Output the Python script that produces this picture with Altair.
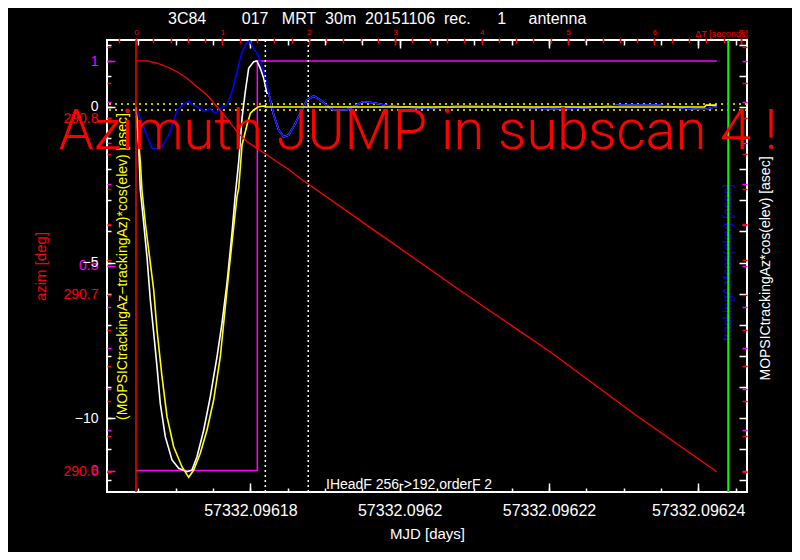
import altair as alt
import pandas as pd

FONT = "Liberation Sans"
RED, WHITE, BLUE, YELLOW, MAGENTA, GREEN = "#ff0000", "#ffffff", "#0000ff", "#ffff00", "#ff00ff", "#00ff00"

# ---------------- data ----------------
# time since start of subscan [s]
az_t = [0.0, 0.127, 0.243, 0.359, 0.475, 0.590, 0.706, 0.822, 0.938, 1.053, 1.169, 1.285,
        1.400, 1.516, 1.632, 1.748, 1.898, 2.862, 3.828, 4.792, 5.756, 6.721]
az_deg = [290.8324, 290.8324, 290.8311, 290.8291, 290.8263, 290.8226, 290.8178, 290.8131,
          290.8065, 290.7999, 290.7924, 290.7867, 290.7830, 290.7792, 290.7754, 290.7717,
          290.7660, 290.7330, 290.7000, 290.6679, 290.6331, 290.6000]

blue_t = [0.012, 0.050, 0.108, 0.185, 0.243, 0.301, 0.378, 0.436, 0.475, 0.532, 0.610, 0.648,
          0.686, 0.726, 0.784, 0.860, 0.918, 0.995, 1.053, 1.111, 1.169, 1.227, 1.285, 1.316,
          1.362, 1.420, 1.478, 1.536, 1.594, 1.652, 1.709, 1.767, 1.844, 1.902, 1.979, 2.057,
          2.133, 2.211, 2.280, 2.439, 2.627, 2.743, 2.940, 3.056, 3.365, 3.712, 4.059, 4.291,
          4.595, 4.826, 5.101, 5.370, 5.602, 6.065, 6.215, 6.447, 6.605, 6.678, 6.725]
blue_v = [-0.129, -0.363, -0.794, -1.328, -1.360, -1.277, -0.900, -0.473, -0.096, 0.042, 0.193,
          0.064, 0.042, -0.023, -0.151, -0.064, -0.203, 0.010, 0.064, 0.492, 1.135, 1.778,
          2.080, 2.122, 1.887, 1.617, 1.135, 0.441, -0.257, -0.740, -0.955, -0.900, -0.524,
          -0.203, 0.225, 0.354, 0.225, 0.042, -0.096, -0.096, 0.170, 0.138, 0.032, 0.010,
          -0.042, 0.023, 0.042, 0.000, -0.023, -0.064, -0.042, 0.000, 0.064, 0.064, 0.000,
          -0.064, -0.074, -0.010, 0.000]

# MOPSIC tracking: deep dip, then it runs on top of the blue curve
white_t = [0.0, 0.031, 0.050, 0.089, 0.127, 0.166, 0.205, 0.243, 0.281, 0.339, 0.417, 0.494,
           0.590, 0.648, 0.706, 0.784, 0.860, 0.938, 0.995, 1.053, 1.111, 1.149, 1.189, 1.227,
           1.265, 1.304, 1.362, 1.400, 1.439, 1.478, 1.516]
white_v = [0.0, -1.222, -2.669, -3.730, -4.813, -6.206, -7.267, -8.350, -9.527, -10.601,
           -11.350, -11.617, -11.727, -11.672, -11.244, -10.386, -9.315, -8.029, -6.955,
           -5.669, -4.061, -2.830, -1.759, -0.363, 0.492, 1.244, 1.457, 1.479, 1.244, 0.923, 0.441]

yellow_t = [0.005, 0.050, 0.069, 0.108, 0.147, 0.205, 0.243, 0.301, 0.359, 0.436, 0.532, 0.610,
            0.668, 0.744, 0.822, 0.899, 0.976, 1.034, 1.073, 1.131, 1.169, 1.189, 1.207, 1.227,
            1.285, 1.323, 1.362, 1.420, 1.478, 1.497, 6.58, 6.60, 6.72]
yellow_v = [-0.300, -1.759, -2.669, -3.730, -4.598, -5.884, -7.170, -8.672, -9.958, -10.923,
            -11.566, -11.907, -11.672, -11.135, -10.386, -9.421, -8.029, -6.421, -5.347,
            -3.849, -2.884, -2.605, -1.961, -1.222, -0.579, -0.203, -0.096, 0.010, 0.032,
            0.0, 0.0, 0.06, 0.06]

mag_t = [0.0, 1.404, 1.404, 6.721]
mag_v = [0, 0, 1, 1]

red_vline_t = [0.0]
green_vline_t = [6.855]
dotted_vline_t = [1.497, 1.994]
tolerance_v = [0.1, -0.1]

note_text = ["Azimuth JUMP in subscan 4 !"]
note_t = [3.264]
note_az = [290.7825]
info_text = ["IHeadF 256->192 orderF 2"]
info_t = [2.199]
info_az = [290.59027]

title_text = ("3C84" + "\u00a0" * 8 + "017" + "\u00a0" * 3 + "MRT" + "\u00a0" * 2 + "30m"
              + "\u00a0" * 2 + "20151106" + "\u00a0" * 2 + "rec." + "\u00a0" * 6 + "1"
              + "\u00a0" * 5 + "antenna")

# tick values
white_major = [0, -5, -10]
white_minor = list(range(-12, 3))
red_major = [290.6, 290.7, 290.8]
red_minor = [round(290.6 + 0.02 * i, 2) for i in range(13)]
mag_major = [0, 0.5, 1]
mag_minor = [round(0.1 * i, 1) for i in range(11)]
dt_major = list(range(8))
dt_minor = [round(0.2 * i, 1) for i in range(-1, 36)]
mjd_major = [57332.09618, 57332.09620, 57332.09622, 57332.09624]
mjd_minor = [57332.096165 + 0.000005 * i for i in range(17)]
MJD0 = 57332.09618 - 1.3241 / 86400.0
mjd_major_t = [(m - MJD0) * 86400.0 for m in mjd_major]
mjd_minor_t = [(m - MJD0) * 86400.0 for m in mjd_minor]

# ---------------- scales ----------------
X = alt.Scale(domain=[-0.3356, 7.0718], nice=False, zero=False)
YW = alt.Scale(domain=[-12.379, 2.154], nice=False, zero=False)
YR = alt.Scale(domain=[290.58857, 290.84423], nice=False, zero=False)
YM = alt.Scale(domain=[-0.0525, 1.0513], nice=False, zero=False)


def line(t, v, yscale, color, width=1.6):
    df = pd.DataFrame({"t": t, "v": v, "i": list(range(len(t)))})
    return alt.Chart(df).mark_line(color=color, strokeWidth=width).encode(
        x=alt.X("t:Q", scale=X, axis=None),
        y=alt.Y("v:Q", scale=yscale, axis=None),
        order="i:Q")


def vrule(t, color, dash=None, width=1.5):
    kw = {"color": color, "strokeWidth": width}
    if dash:
        kw["strokeDash"] = dash
    return alt.Chart(pd.DataFrame({"t": t})).mark_rule(**kw).encode(
        x=alt.X("t:Q", scale=X, axis=None))


def yaxis(values, yscale, **kw):
    kw.setdefault("title", "")
    vals = [float(v) for v in values]
    return alt.Chart(pd.DataFrame({"v": vals})).mark_point(opacity=0).encode(
        y=alt.Y("v:Q", scale=yscale,
                axis=alt.Axis(values=vals, grid=False, domain=False, labelOverlap=False,
                              labelFont=FONT, titleFont=FONT, titleFontWeight="normal", **kw)))


def xaxis(values, **kw):
    kw.setdefault("title", "")
    vals = [float(v) for v in values]
    return alt.Chart(pd.DataFrame({"t": vals})).mark_point(opacity=0).encode(
        x=alt.X("t:Q", scale=X,
                axis=alt.Axis(values=vals, grid=False, domain=False, labelOverlap=False,
                              labelFlush=False, labelFont=FONT, titleFont=FONT,
                              titleFontWeight="normal", **kw)))


# ---------------- magenta group ----------------
mag_group = alt.layer(
    line(mag_t, mag_v, YM, MAGENTA, 1.5),
    yaxis(mag_major, YM, orient="left", offset=-8, tickSize=8, tickColor=MAGENTA, tickWidth=1.5,
          labelColor=MAGENTA, labelFontSize=14, labelPadding=9, format="~g"),
    yaxis(mag_minor, YM, orient="left", offset=-4, tickSize=4, tickColor=MAGENTA, tickWidth=1.5,
          labels=False),
    yaxis(mag_minor, YM, orient="right", offset=-5, tickSize=5, tickColor=MAGENTA, tickWidth=1.5,
          labels=False),
).resolve_axis(x="independent", y="independent")

# ---------------- asec group ----------------
tol = alt.Chart(pd.DataFrame({"v": tolerance_v})).mark_rule(
    color=YELLOW, strokeDash=[2, 4], strokeWidth=1.5).encode(
    y=alt.Y("v:Q", scale=YW, axis=None))

white_full_t = white_t + [t for t in blue_t if t > white_t[-1]]
white_full_v = white_v + [v for t, v in zip(blue_t, blue_v) if t > white_t[-1]]

asec_group = alt.layer(
    tol,
    line(white_full_t, white_full_v, YW, WHITE),
    line(blue_t, blue_v, YW, BLUE),
    line(yellow_t, yellow_v, YW, YELLOW),
    yaxis(white_major, YW, orient="left", offset=-8, tickSize=8, tickColor=WHITE, tickWidth=1.5,
          labelColor=WHITE, labelFontSize=14, labelPadding=9),
    yaxis(white_minor, YW, orient="left", offset=-4, tickSize=4, tickColor=WHITE, tickWidth=1.5,
          labels=False, title="(MOPSICtrackingAz\u2212trackingAz)*cos(elev) [asec]",
          titleColor=YELLOW, titleFontSize=14, titleAngle=270, titleX=11, titleY=226,
          titleAlign="center", titleBaseline="middle"),
    yaxis(white_minor, YW, orient="right", offset=-8, tickSize=8, tickColor=WHITE, tickWidth=1.5,
          labels=False, title="MOPSICtrackingAz*cos(elev) [asec]", titleColor=WHITE,
          titleFontSize=14, titleAngle=270, titleX=26, titleY=228, titleAlign="center",
          titleBaseline="middle"),
).resolve_axis(x="independent", y="independent")

# ---------------- azimuth group ----------------
note = alt.Chart(pd.DataFrame({"t": note_t, "v": note_az, "s": note_text})).mark_text(
    align="center", baseline="alphabetic", font="Roboto", fontSize=56, fontWeight=300,
    color=RED).encode(
    x=alt.X("t:Q", scale=X, axis=None), y=alt.Y("v:Q", scale=YR, axis=None), text="s:N")
info = alt.Chart(pd.DataFrame({"t": info_t, "v": info_az, "s": info_text})).mark_text(
    align="left", baseline="alphabetic", font=FONT, fontSize=14, color=WHITE).encode(
    x=alt.X("t:Q", scale=X, axis=None), y=alt.Y("v:Q", scale=YR, axis=None), text="s:N")

az_group = alt.layer(
    line(az_t, az_deg, YR, RED, 1.3),
    vrule(red_vline_t, RED),
    vrule(green_vline_t, GREEN, width=2),
    vrule(dotted_vline_t, WHITE, dash=[2, 3]),
    note,
    info,
    yaxis(red_major, YR, orient="left", offset=-4, tickSize=4, tickColor=RED, tickWidth=1.5,
          labelColor=RED, labelFontSize=14, labelPadding=9, title="azim [deg]",
          titleColor=RED, titleFontSize=15, titleAngle=270, titleX=-71, titleY=226,
          titleAlign="center", titleBaseline="middle"),
    yaxis(red_minor, YR, orient="left", offset=-4, tickSize=4, tickColor=RED, tickWidth=1.5,
          labels=False),
    yaxis(red_minor, YR, orient="right", offset=-5, tickSize=5, tickColor=RED, tickWidth=1.5,
          labels=False, title="trackingAz*cos(elev) [asec]", titleColor=BLUE, titleFontSize=13,
          titleAngle=270, titleX=-15, titleY=222, titleAlign="center", titleBaseline="middle"),
    # top: delta-T in seconds (red)
    xaxis(dt_major, orient="top", offset=-5, tickSize=7, tickColor=RED, tickWidth=1.5,
          labelColor=RED, labelFontSize=8, labelPadding=2, title="\u0394T [seconds]",
          titleColor=RED, titleFontSize=9, titleX=614, titleY=-12, titleAlign="center",
          titleBaseline="middle"),
    xaxis(dt_minor, orient="top", offset=-3, tickSize=5, tickColor=RED, tickWidth=1.5,
          labels=False),
    # top: MJD ticks (white)
    xaxis(mjd_major_t, orient="top", offset=-8, tickSize=8, tickColor=WHITE, tickWidth=1.5,
          labels=False),
    xaxis(mjd_minor_t, orient="top", offset=-5, tickSize=5, tickColor=WHITE, tickWidth=1.5,
          labels=False),
    # bottom: MJD
    xaxis(mjd_major_t, orient="bottom", offset=-9, tickSize=9, tickColor=WHITE, tickWidth=1.5,
          labelColor=WHITE, labelFontSize=16, labelPadding=10,
          labelExpr=f"format({MJD0!r} + datum.value / 86400, '.5~f')",
          title="MJD [days]", titleColor=WHITE, titleFontSize=15, titleX=320, titleY=50,
          titleAlign="center", titleBaseline="middle"),
    xaxis(mjd_minor_t, orient="bottom", offset=-4, tickSize=4, tickColor=WHITE, tickWidth=1.5,
          labels=False),
).resolve_axis(x="independent", y="independent")

chart = alt.layer(mag_group, asec_group, az_group).resolve_scale(
    y="independent").resolve_axis(x="independent", y="independent").properties(
    width=640, height=452,
    padding={"left": 99, "top": 32, "right": 45, "bottom": 60},
    autosize=alt.AutoSizeParams(type="none"),
    title=alt.TitleParams(title_text, anchor="start", frame="group", dx=61, offset=-12,
                          color=WHITE, font=FONT, fontSize=16, fontWeight="normal",
                          baseline="alphabetic"),
).configure(background="black").configure_view(stroke=WHITE, strokeWidth=2)

chart.save("out.html", embed_options={"renderer": "svg", "actions": False})
